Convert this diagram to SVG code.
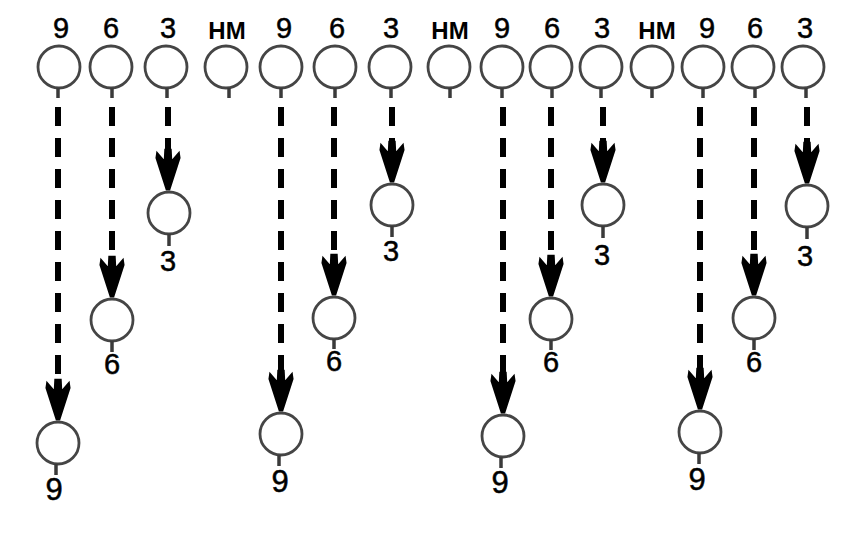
<svg xmlns="http://www.w3.org/2000/svg" width="846" height="536" viewBox="0 0 846 536">
<style>
.c{fill:#fff;stroke:#454545;stroke-width:2.8}
.s{stroke:#3a3a3a;stroke-width:3.5}
.t{font-family:"Liberation Sans",Arial,sans-serif;font-size:29px;fill:#000;stroke:#000;stroke-width:0.5;text-anchor:middle}
.b{font-family:"Liberation Sans",Arial,sans-serif;font-size:24px;font-weight:bold;fill:#000;text-anchor:middle}
.l{font-family:"Liberation Sans",Arial,sans-serif;font-size:29px;fill:#000;stroke:#000;stroke-width:0.5;text-anchor:middle}
.n{font-size:31px}
.d{stroke:#000;stroke-width:6;stroke-dasharray:19 12;fill:none;marker-end:url(#ah)}
</style>
<defs>
<marker id="ah" markerUnits="userSpaceOnUse" orient="auto" markerWidth="44" markerHeight="28" refX="28" refY="13" viewBox="0 0 42 26" overflow="visible">
<path d="M40,11 L40,15 L9,25 L2,24 L10,17 L0,16.5 L0,9.5 L10,9 L2,2 L9,1 Z" fill="#000"/>
</marker>
</defs>
<rect width="846" height="536" fill="#fff"/>
<g id="connectors">
<line class="d" x1="58" y1="107" x2="58" y2="408"/>
<line class="d" x1="112" y1="107" x2="112" y2="285"/>
<line class="d" x1="168" y1="107" x2="168" y2="178"/>
<line class="d" x1="281" y1="107" x2="281" y2="399"/>
<line class="d" x1="334" y1="107" x2="334" y2="283"/>
<line class="d" x1="392" y1="107" x2="392" y2="170"/>
<line class="d" x1="503" y1="107" x2="503" y2="401"/>
<line class="d" x1="551" y1="107" x2="551" y2="284"/>
<line class="d" x1="603" y1="107" x2="603" y2="170"/>
<line class="d" x1="700" y1="107" x2="700" y2="397"/>
<line class="d" x1="754" y1="107" x2="754" y2="283"/>
<line class="d" x1="807" y1="107" x2="807" y2="171"/>
</g>
<g id="top1"><circle class="c" cx="59" cy="67" r="21"/><line class="s" x1="58" y1="88" x2="58" y2="98"/><text class="t" x="61" y="38">9</text></g>
<g id="top2"><circle class="c" cx="111" cy="67" r="21"/><line class="s" x1="112" y1="88" x2="112" y2="98"/><text class="t" x="111" y="38">6</text></g>
<g id="top3"><circle class="c" cx="166" cy="67" r="21"/><line class="s" x1="167" y1="88" x2="167" y2="98"/><text class="t" x="168" y="38">3</text></g>
<g id="top4"><circle class="c" cx="226" cy="67" r="21"/><line class="s" x1="229" y1="88" x2="229" y2="98"/><text class="b" x="227" y="39">HM</text></g>
<g id="top5"><circle class="c" cx="281" cy="67" r="21"/><line class="s" x1="281" y1="88" x2="281" y2="98"/><text class="t" x="284" y="38">9</text></g>
<g id="top6"><circle class="c" cx="335" cy="67" r="21"/><line class="s" x1="335" y1="88" x2="335" y2="98"/><text class="t" x="337" y="38">6</text></g>
<g id="top7"><circle class="c" cx="390" cy="67" r="21"/><line class="s" x1="391" y1="88" x2="391" y2="98"/><text class="t" x="391" y="38">3</text></g>
<g id="top8"><circle class="c" cx="449" cy="67" r="21"/><line class="s" x1="450" y1="88" x2="450" y2="98"/><text class="b" x="450" y="39">HM</text></g>
<g id="top9"><circle class="c" cx="502" cy="67" r="21"/><line class="s" x1="502" y1="88" x2="502" y2="98"/><text class="t" x="502" y="38">9</text></g>
<g id="top10"><circle class="c" cx="551" cy="67" r="21"/><line class="s" x1="552" y1="88" x2="552" y2="98"/><text class="t" x="552" y="38">6</text></g>
<g id="top11"><circle class="c" cx="601" cy="67" r="21"/><line class="s" x1="601" y1="88" x2="601" y2="98"/><text class="t" x="602" y="38">3</text></g>
<g id="top12"><circle class="c" cx="652" cy="67" r="21"/><line class="s" x1="652" y1="88" x2="652" y2="98"/><text class="b" x="657" y="39">HM</text></g>
<g id="top13"><circle class="c" cx="703" cy="67" r="21"/><line class="s" x1="703" y1="88" x2="703" y2="98"/><text class="t" x="707" y="38">9</text></g>
<g id="top14"><circle class="c" cx="753" cy="67" r="21"/><line class="s" x1="755" y1="88" x2="755" y2="98"/><text class="t" x="755" y="38">6</text></g>
<g id="top15"><circle class="c" cx="803" cy="67" r="21"/><line class="s" x1="806" y1="88" x2="806" y2="98"/><text class="t" x="805" y="38">3</text></g>
<g id="low1-9"><circle class="c" cx="58" cy="443" r="21"/><line class="s" x1="56" y1="464" x2="56" y2="475"/><text class="l n" x="54" y="500">9</text></g>
<g id="low1-6"><circle class="c" cx="112" cy="320" r="21"/><line class="s" x1="112" y1="341" x2="112" y2="352"/><text class="l" x="112" y="374">6</text></g>
<g id="low1-3"><circle class="c" cx="169" cy="213" r="21"/><line class="s" x1="169" y1="234" x2="169" y2="246"/><text class="l" x="168" y="271">3</text></g>
<g id="low2-9"><circle class="c" cx="281" cy="434" r="21"/><line class="s" x1="279" y1="455" x2="279" y2="466"/><text class="l n" x="280" y="492">9</text></g>
<g id="low2-6"><circle class="c" cx="334" cy="318" r="21"/><line class="s" x1="334" y1="339" x2="334" y2="349"/><text class="l" x="334" y="371">6</text></g>
<g id="low2-3"><circle class="c" cx="392" cy="205" r="21"/><line class="s" x1="392" y1="226" x2="392" y2="237"/><text class="l" x="391" y="261">3</text></g>
<g id="low3-9"><circle class="c" cx="503" cy="436" r="21"/><line class="s" x1="501" y1="457" x2="501" y2="468"/><text class="l n" x="500" y="493">9</text></g>
<g id="low3-6"><circle class="c" cx="551" cy="319" r="21"/><line class="s" x1="551" y1="340" x2="551" y2="350"/><text class="l" x="551" y="372">6</text></g>
<g id="low3-3"><circle class="c" cx="603" cy="205" r="21"/><line class="s" x1="603" y1="226" x2="603" y2="238"/><text class="l" x="602" y="265">3</text></g>
<g id="low4-9"><circle class="c" cx="700" cy="432" r="21"/><line class="s" x1="699" y1="453" x2="699" y2="464"/><text class="l n" x="697" y="490">9</text></g>
<g id="low4-6"><circle class="c" cx="754" cy="318" r="21"/><line class="s" x1="754" y1="339" x2="754" y2="350"/><text class="l" x="754" y="372">6</text></g>
<g id="low4-3"><circle class="c" cx="807" cy="206" r="21"/><line class="s" x1="807" y1="227" x2="807" y2="239"/><text class="l" x="805" y="266">3</text></g>
</svg>
